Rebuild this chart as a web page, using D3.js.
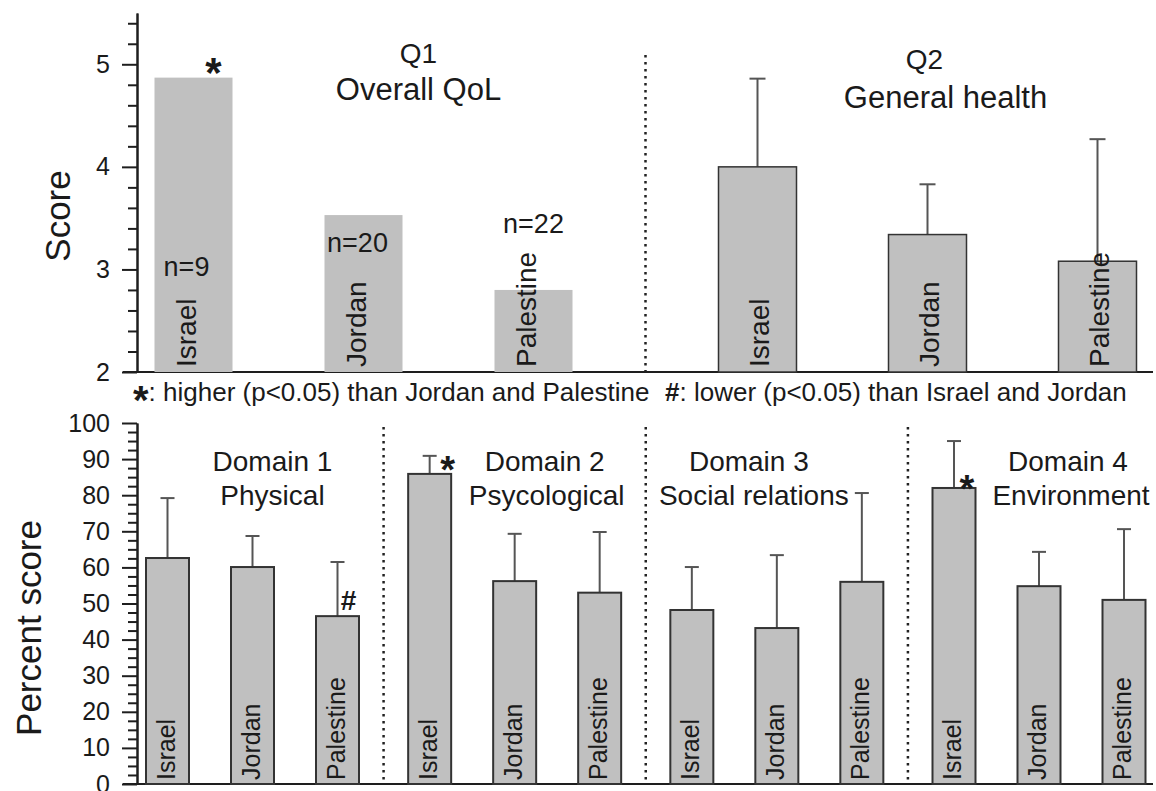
<!DOCTYPE html>
<html>
<head>
<meta charset="utf-8">
<script src="https://cdn.jsdelivr.net/npm/d3@7"></script>
<style>
    body { margin: 0; background: #fff; }
    svg text { font-family: "Liberation Sans", Arial, sans-serif; fill: #1a1a1a; }
</style>
</head>
<body>
<svg id="chart" width="1156" height="791"></svg>
<script>
var countries = ['Israel', 'Jordan', 'Palestine'];
var questions = ['Q1', 'Q2'];
var questionNames = ['Overall QoL', 'General health'];
var q1Mean = [4.87, 3.53, 2.80];
var q2Mean = [4.00, 3.34, 3.08];
var q2Sd = [0.86, 0.49, 1.19];
var sampleSizes = [9, 20, 22];
var domains = ['Domain 1', 'Domain 2', 'Domain 3', 'Domain 4'];
var domainNames = ['Physical', 'Psycological', 'Social relations', 'Environment'];
var domainMean = [[62.6, 60.1, 46.5], [85.9, 56.2, 53.0], [48.2, 43.2, 56.0], [82.0, 54.8, 51.0]];
var domainSd = [[16.6, 8.6, 15.0], [5.0, 13.1, 16.8], [11.9, 20.2, 24.6], [13.0, 9.5, 19.6]];
var scoreTicks = [2, 3, 4, 5];
var percentTicks = [0, 10, 20, 30, 40, 50, 60, 70, 80, 90, 100];
var legendHigher = ': higher (p<0.05) than Jordan and Palestine';
var legendLower = ': lower (p<0.05) than Israel and Jordan';

(function () {
    'use strict';

    var svg = d3.select('#chart'),
        axisX = 137, lineLeft = 123, lineRight = 1153,
        ink = '#1e1e1e', barFill = '#c0c0c0', barStroke = '#333', errStroke = '#555';

    // scales
    var yTop = d3.scaleLinear().domain([2, 5.5]).range([372, 13]),
        yBot = d3.scaleLinear().domain([0, 100]).range([784, 423]),
        qX = d3.scalePoint().domain(questions).range([363.5, 927.5]),
        qInner = d3.scalePoint().domain(countries).range([-170, 170]),
        dX = d3.scalePoint().domain(domains).range([252.5, 1039]),
        dInner = d3.scalePoint().domain(countries).range([-85, 85]);

    function drawAxis(y, major, step, lo, hi) {
        var g = svg.append('g').attr('transform', 'translate(' + axisX + ',0)');
        var minor = d3.range(lo, hi + step / 2, step).filter(function (v) {
            return major.indexOf(Math.round(v * 1000) / 1000) < 0;
        });
        g.append('g').call(d3.axisLeft(y).tickValues(minor).tickSize(9).tickSizeOuter(0).tickFormat(''));
        g.append('g').call(d3.axisLeft(y).tickValues(major).tickSize(15).tickSizeOuter(0)
            .tickPadding(12).tickFormat(d3.format('d')));
        g.selectAll('path, line').attr('stroke', ink).attr('stroke-width', 2);
        g.selectAll('text').style('font-size', '25px').attr('fill', ink);
        svg.append('line')
            .attr('x1', lineLeft).attr('x2', lineRight)
            .attr('y1', y(y.domain()[0])).attr('y2', y(y.domain()[0]))
            .attr('stroke', ink).attr('stroke-width', 2);
    }

    drawAxis(yTop, scoreTicks, 0.2, 2, 5.5);
    drawAxis(yBot, percentTicks, 2.5, 0, 100);

    // axis titles
    svg.append('text').text('Score')
        .attr('transform', 'translate(70,216) rotate(-90)')
        .attr('text-anchor', 'middle').style('font-size', '35px');
    svg.append('text').text('Percent score')
        .attr('transform', 'translate(41,628) rotate(-90)')
        .attr('text-anchor', 'middle').style('font-size', '35px');

    function separator(x, y0, y1) {
        svg.append('line')
            .attr('x1', x).attr('x2', x).attr('y1', y0).attr('y2', y1)
            .attr('stroke', '#222').attr('stroke-width', 2.5)
            .attr('stroke-dasharray', '2.5,4.5');
    }

    // ----- top panel -----
    separator((qX('Q1') + qX('Q2')) / 2, 55, yTop(2));

    var topW = 78;
    var q1 = countries.map(function (c, i) { return {c: c, v: q1Mean[i], n: sampleSizes[i]}; });
    var q2 = countries.map(function (c, i) { return {c: c, v: q2Mean[i], sd: q2Sd[i]}; });

    svg.append('g').selectAll('rect').data(q1).enter().append('rect')
        .attr('x', function (d) { return qX('Q1') + qInner(d.c) - topW / 2; })
        .attr('width', topW)
        .attr('y', function (d) { return yTop(d.v); })
        .attr('height', function (d) { return yTop(2) - yTop(d.v); })
        .attr('fill', barFill);

    var q2g = svg.append('g');
    q2g.selectAll('line.err').data(q2).enter().append('line')
        .attr('x1', function (d) { return qX('Q2') + qInner(d.c); })
        .attr('x2', function (d) { return qX('Q2') + qInner(d.c); })
        .attr('y1', function (d) { return yTop(d.v); })
        .attr('y2', function (d) { return yTop(d.v + d.sd); })
        .attr('stroke', errStroke).attr('stroke-width', 2);
    q2g.selectAll('line.cap').data(q2).enter().append('line')
        .attr('x1', function (d) { return qX('Q2') + qInner(d.c) - 8; })
        .attr('x2', function (d) { return qX('Q2') + qInner(d.c) + 8; })
        .attr('y1', function (d) { return yTop(d.v + d.sd); })
        .attr('y2', function (d) { return yTop(d.v + d.sd); })
        .attr('stroke', errStroke).attr('stroke-width', 2);
    q2g.selectAll('rect').data(q2).enter().append('rect')
        .attr('x', function (d) { return qX('Q2') + qInner(d.c) - topW / 2; })
        .attr('width', topW)
        .attr('y', function (d) { return yTop(d.v); })
        .attr('height', function (d) { return yTop(2) - yTop(d.v); })
        .attr('fill', barFill).attr('stroke', barStroke).attr('stroke-width', 1.5);

    // country labels inside bars
    [['Q1', 2], ['Q2', 11]].forEach(function (q) {
        svg.append('g').selectAll('text').data(countries).enter().append('text')
            .text(function (d) { return d; })
            .attr('transform', function (d) {
                return 'translate(' + (qX(q[0]) + qInner(d) + q[1]) + ',367) rotate(-90)';
            })
            .style('font-size', '28px');
    });

    // sample sizes
    var nLabelAt = [2.94, 3.17, 3.36], nLabelDx = [-7, -6, 0];
    svg.append('g').selectAll('text').data(q1).enter().append('text')
        .text(function (d) { return 'n=' + d.n; })
        .attr('x', function (d, i) { return qX('Q1') + qInner(d.c) + nLabelDx[i]; })
        .attr('y', function (d, i) { return yTop(nLabelAt[i]); })
        .attr('text-anchor', 'middle').style('font-size', '27px');

    // question titles
    var qTitle = [{dx1: 55, dx2: 55, y1: 63, y2: 100}, {dx1: -3, dx2: 18, y1: 69, y2: 108}];
    questions.forEach(function (q, i) {
        svg.append('text').text(q)
            .attr('x', qX(q) + qTitle[i].dx1).attr('y', qTitle[i].y1)
            .attr('text-anchor', 'middle').style('font-size', '28px');
        svg.append('text').text(questionNames[i])
            .attr('x', qX(q) + qTitle[i].dx2).attr('y', qTitle[i].y2)
            .attr('text-anchor', 'middle').style('font-size', '31px');
    });

    // significance marks
    function mark(sym, x, y, size) {
        svg.append('text').text(sym)
            .attr('x', x).attr('y', y)
            .attr('text-anchor', 'middle')
            .style('font-size', size + 'px').style('font-weight', 'bold');
    }
    mark('*', qX('Q1') + qInner('Israel') + 20, yTop(q1Mean[0]) + 9, 42);

    // legend
    var leg1 = svg.append('text').attr('x', 133).attr('y', 401).style('font-size', '26px');
    leg1.append('tspan').text('*').style('font-size', '40px').style('font-weight', 'bold').attr('dy', 13);
    leg1.append('tspan').text(legendHigher).attr('dy', -13);
    var leg2 = svg.append('text').attr('x', 665).attr('y', 401).style('font-size', '26px');
    leg2.append('tspan').text('#').style('font-weight', 'bold');
    leg2.append('tspan').text(legendLower);

    // ----- bottom panel -----
    domains.slice(1).forEach(function (d, i) {
        separator((dX(domains[i]) + dX(d)) / 2, 427, yBot(0));
    });

    var botW = 43;
    var rows = [];
    domains.forEach(function (dom, i) {
        countries.forEach(function (c, j) {
            rows.push({dom: dom, c: c, v: domainMean[i][j], sd: domainSd[i][j]});
        });
    });
    function bx(d) { return dX(d.dom) + dInner(d.c); }

    var bg = svg.append('g');
    bg.selectAll('line.err').data(rows).enter().append('line')
        .attr('x1', bx).attr('x2', bx)
        .attr('y1', function (d) { return yBot(d.v); })
        .attr('y2', function (d) { return yBot(d.v + d.sd); })
        .attr('stroke', errStroke).attr('stroke-width', 2);
    bg.selectAll('line.cap').data(rows).enter().append('line')
        .attr('x1', function (d) { return bx(d) - 7; })
        .attr('x2', function (d) { return bx(d) + 7; })
        .attr('y1', function (d) { return yBot(d.v + d.sd); })
        .attr('y2', function (d) { return yBot(d.v + d.sd); })
        .attr('stroke', errStroke).attr('stroke-width', 2);
    bg.selectAll('rect').data(rows).enter().append('rect')
        .attr('x', function (d) { return bx(d) - botW / 2; })
        .attr('width', botW)
        .attr('y', function (d) { return yBot(d.v); })
        .attr('height', function (d) { return yBot(0) - yBot(d.v); })
        .attr('fill', barFill).attr('stroke', barStroke).attr('stroke-width', 2);
    bg.selectAll('text').data(rows).enter().append('text')
        .text(function (d) { return d.c; })
        .attr('transform', function (d) { return 'translate(' + (bx(d) + 7) + ',780) rotate(-90)'; })
        .style('font-size', '25px');

    // domain titles
    var dTitle = [{dx1: 20, dx2: 20}, {dx1: 30, dx2: 32}, {dx1: -28, dx2: -23}, {dx1: 29, dx2: 32}];
    domains.forEach(function (d, i) {
        svg.append('text').text(d)
            .attr('x', dX(d) + dTitle[i].dx1).attr('y', 471)
            .attr('text-anchor', 'middle').style('font-size', '28px');
        svg.append('text').text(domainNames[i])
            .attr('x', dX(d) + dTitle[i].dx2).attr('y', 505)
            .attr('text-anchor', 'middle').style('font-size', '28px');
    });

    mark('*', dX('Domain 2') + dInner('Israel') + 18, yBot(domainMean[1][0]) + 9, 38);
    mark('*', dX('Domain 4') + dInner('Israel') + 13, yBot(domainMean[3][0]) + 14, 38);
    mark('#', dX('Domain 1') + dInner('Palestine') + 11, yBot(domainMean[0][2]) - 6, 28);
}());
</script>
</body>
</html>
